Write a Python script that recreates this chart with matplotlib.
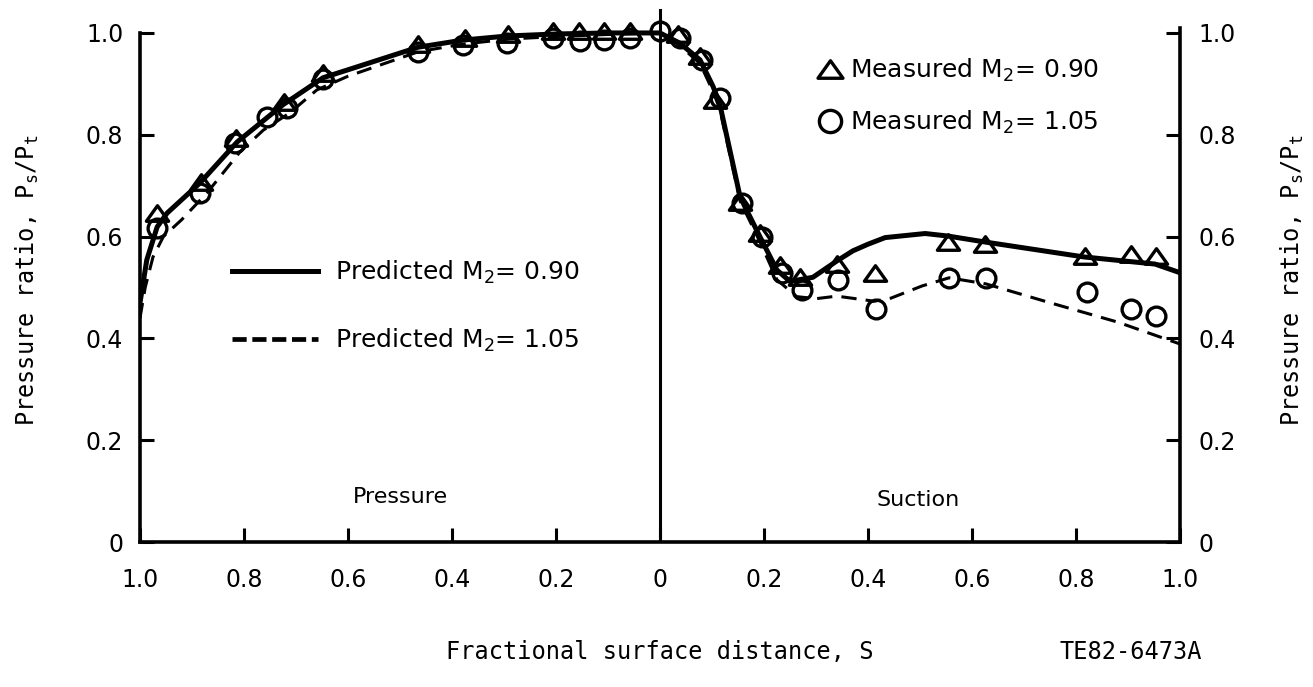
import matplotlib
matplotlib.use("Agg")
import matplotlib.pyplot as plt
from matplotlib.lines import Line2D
from matplotlib.path import Path

# position along the surface: negative = pressure side, positive = suction side
pred090_x = [-1.0, -0.987, -0.967, -0.948, -0.885, -0.813, -0.725, -0.648, -0.602,
             -0.465, -0.379, -0.294, -0.2, -0.1, 0.0, 0.038, 0.077, 0.102, 0.115,
             0.154, 0.192, 0.225, 0.25, 0.294, 0.34, 0.371, 0.40, 0.433, 0.51,
             0.554, 0.627, 0.815, 0.952, 1.0]
pred090_y = [0.47, 0.554, 0.619, 0.646, 0.705, 0.786, 0.859, 0.912, 0.927,
             0.972, 0.986, 0.994, 0.998, 1.0, 1.0, 0.98, 0.947, 0.895, 0.86,
             0.678, 0.60, 0.534, 0.512, 0.52, 0.552, 0.572, 0.585, 0.598, 0.606,
             0.601, 0.589, 0.56, 0.546, 0.529]

pred105_x = [-1.0, -0.99, -0.975, -0.955, -0.92, -0.871, -0.808, -0.763, -0.712,
             -0.66, -0.6, -0.465, -0.38, -0.29, -0.2, -0.1, 0.0, 0.038, 0.077,
             0.102, 0.115, 0.154, 0.192, 0.225, 0.263, 0.30, 0.34, 0.412, 0.444,
             0.504, 0.556, 0.627, 0.75, 0.88, 1.0]
pred105_y = [0.44, 0.50, 0.56, 0.60, 0.633, 0.686, 0.766, 0.809, 0.843,
             0.888, 0.915, 0.963, 0.978, 0.988, 0.993, 0.997, 1.0, 0.975, 0.94,
             0.885, 0.85, 0.67, 0.59, 0.515, 0.482, 0.478, 0.483, 0.473, 0.479,
             0.503, 0.519, 0.507, 0.47, 0.432, 0.389]

meas090_x = [-0.967, -0.883, -0.815, -0.723, -0.648, -0.465, -0.375, -0.292,
             -0.206, -0.156, -0.108, -0.058, 0.035, 0.077, 0.106, 0.154, 0.192,
             0.231, 0.269, 0.34, 0.413, 0.554, 0.625, 0.817, 0.906, 0.954]
meas090_y = [0.646, 0.707, 0.794, 0.864, 0.921, 0.978, 0.99, 0.998,
             1.003, 1.003, 1.003, 1.003, 0.998, 0.955, 0.868, 0.668, 0.607,
             0.544, 0.52, 0.546, 0.529, 0.589, 0.585, 0.562, 0.566, 0.562]

meas105_x = [-0.967, -0.885, -0.817, -0.756, -0.717, -0.648, -0.465, -0.379,
             -0.294, -0.206, -0.154, -0.108, -0.058, 0.0, 0.038, 0.081, 0.115,
             0.158, 0.196, 0.235, 0.273, 0.342, 0.415, 0.556, 0.627, 0.821,
             0.906, 0.954]
meas105_y = [0.617, 0.686, 0.784, 0.835, 0.853, 0.91, 0.962, 0.976,
             0.98, 0.99, 0.984, 0.987, 0.99, 1.003, 0.99, 0.947, 0.872,
             0.666, 0.60, 0.528, 0.495, 0.515, 0.458, 0.519, 0.519, 0.491,
             0.458, 0.444]

xticks = [-1.0, -0.8, -0.6, -0.4, -0.2, 0.0, 0.2, 0.4, 0.6, 0.8, 1.0]
xtick_labels = ["1.0", "0.8", "0.6", "0.4", "0.2", "0", "0.2", "0.4", "0.6", "0.8", "1.0"]
yticks = [0.0, 0.2, 0.4, 0.6, 0.8, 1.0]
ytick_labels = ["0", "0.2", "0.4", "0.6", "0.8", "1.0"]

tri = Path([(0, 0.7), (-1, -0.7), (1, -0.7), (0, 0.7)],
           [Path.MOVETO, Path.LINETO, Path.LINETO, Path.CLOSEPOLY])

fig = plt.figure(figsize=(13.13, 6.87), dpi=100)
ax = fig.add_axes([140 / 1313, 1 - 542 / 687, 1040 / 1313, 534.5 / 687])

ax.plot(pred090_x, pred090_y, color="black", lw=3.6, solid_capstyle="round")
ax.plot(pred105_x, pred105_y, color="black", lw=2.2, dashes=(5, 3))
ax.plot(meas090_x, meas090_y, ls="none", marker=tri, ms=16, mfc="none",
        mec="black", mew=2.4)
ax.plot(meas105_x, meas105_y, ls="none", marker="o", ms=13.5, mfc="none",
        mec="black", mew=2.4)

ax.axvline(0.0, ymin=0, ymax=1.045 / 1.05, color="black", lw=2.2)

ax.set_xlim(-1, 1)
ax.set_ylim(0, 1.05)
ax.set_xticks(xticks)
ax.set_xticklabels(xtick_labels)
ax.set_yticks(yticks)
ax.set_yticklabels(ytick_labels)
ax.tick_params(direction="in", length=10, width=2.2, labelsize=17)
ax.tick_params(axis="x", pad=19)
ax.tick_params(axis="y", pad=12)

for side in ["top", "right"]:
    ax.spines[side].set_visible(False)
ax.spines["left"].set_bounds(0, 1.0)
ax.spines["left"].set_linewidth(2.6)
ax.spines["bottom"].set_linewidth(2.6)

ax2 = ax.twinx()
ax2.set_ylim(0, 1.05)
ax2.set_yticks(yticks)
ax2.set_yticklabels(ytick_labels)
ax2.tick_params(direction="in", length=10, width=2.2, labelsize=17, pad=13)
for side in ["top", "left", "bottom"]:
    ax2.spines[side].set_visible(False)
ax2.spines["right"].set_bounds(0, 1.01)
ax2.spines["right"].set_linewidth(2.6)

ylab = "Pressure ratio, P$_{\\mathtt{s}}$/P$_{\\mathtt{t}}$"
ax.set_ylabel(ylab, fontsize=17, family="DejaVu Sans Mono")
ax.yaxis.set_label_coords(-0.095, 0.49)
ax2.set_ylabel(ylab, fontsize=17, family="DejaVu Sans Mono")
ax2.yaxis.set_label_coords(1.095, 0.49)

ax.set_xlabel("Fractional surface distance, S", fontsize=17, family="DejaVu Sans Mono")
ax.xaxis.set_label_coords(0.5, -0.206)
ax.xaxis.label.set_va("center")
fig.text(1131 / 1313, 1 - 652 / 687, "TE82-6473A", fontsize=17,
         family="DejaVu Sans Mono", ha="center", va="center")

ax.text(-0.5, 0.088, "Pressure", fontsize=16, ha="center", va="center")
ax.text(0.496, 0.083, "Suction", fontsize=16, ha="center", va="center")

pred_handles = [
    Line2D([], [], color="black", lw=3.6, label="Predicted M$_2$= 0.90"),
    Line2D([], [], color="black", lw=3.4, dashes=(3, 1.2), label="Predicted M$_2$= 1.05"),
]
leg1 = ax.legend(handles=pred_handles, loc="upper left", bbox_to_anchor=(0.0885, 0.529),
                 frameon=False, fontsize=18, handlelength=3.44, handletextpad=0.68,
                 labelspacing=1.6, borderpad=0, borderaxespad=0)
ax.add_artist(leg1)

meas_handles = [
    Line2D([], [], ls="none", marker=tri, ms=18, mfc="none", mec="black", mew=2.4,
           label="Measured M$_2$= 0.90"),
    Line2D([], [], ls="none", marker="o", ms=16, mfc="none", mec="black", mew=2.4,
           label="Measured M$_2$= 1.05"),
]
ax.legend(handles=meas_handles, loc="upper left", bbox_to_anchor=(0.651, 0.908),
          frameon=False, fontsize=18, handlelength=1.0, handletextpad=0.3,
          labelspacing=1.0, borderpad=0, borderaxespad=0)

fig.savefig("out.png", dpi=100)
